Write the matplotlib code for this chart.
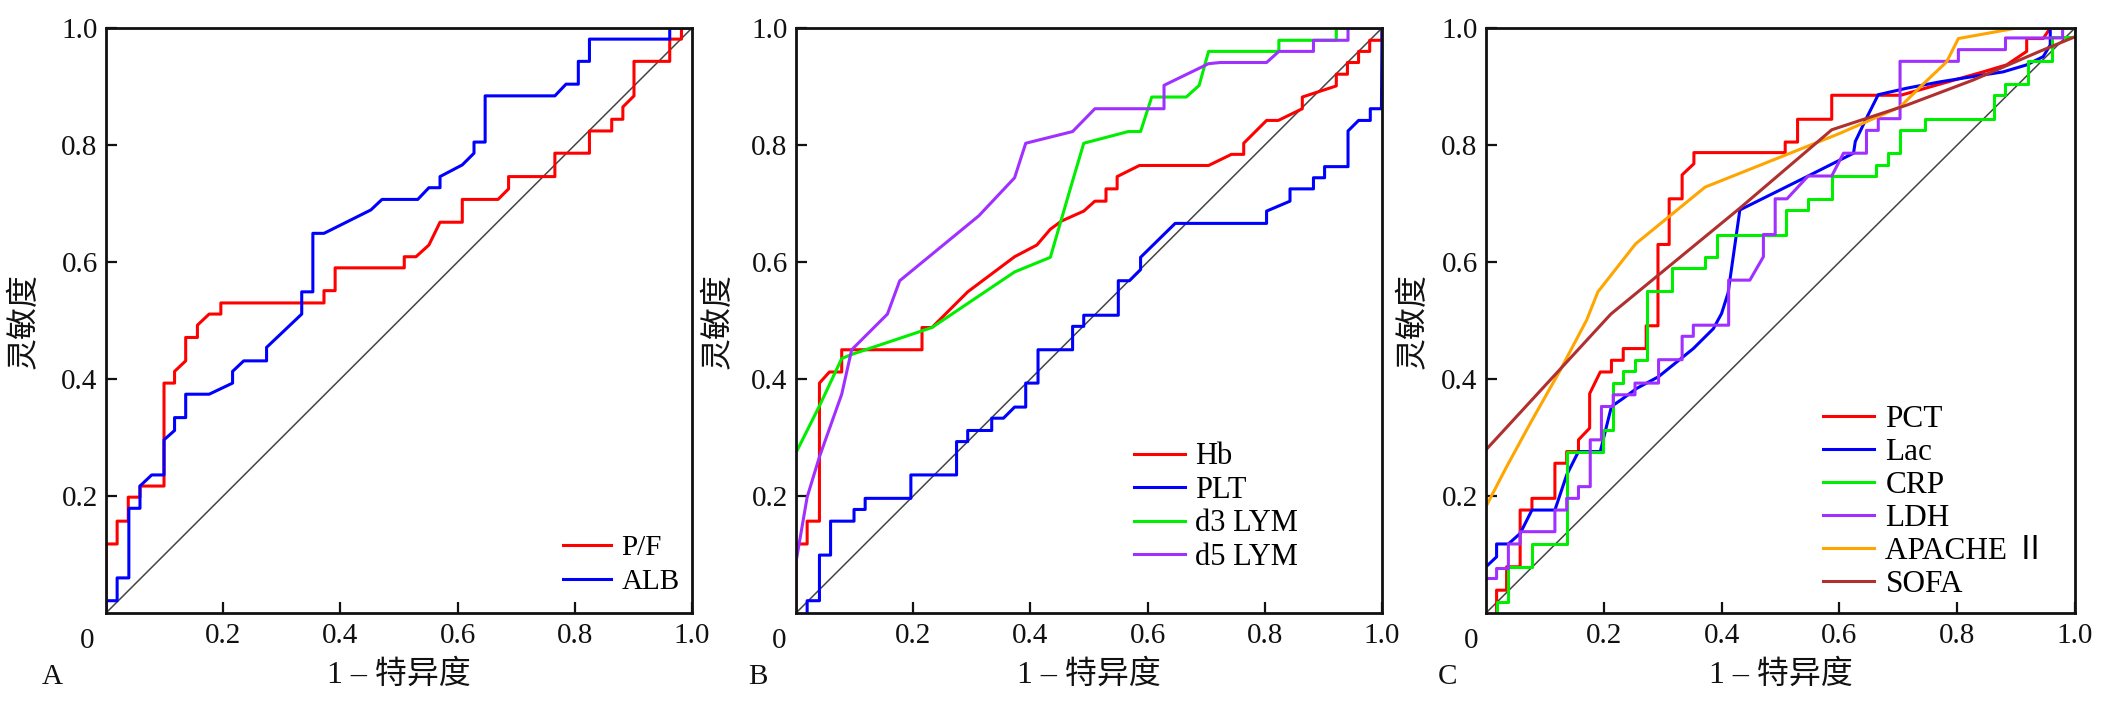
import matplotlib
matplotlib.use("Agg")
import matplotlib.pyplot as plt

plt.rcParams['font.family'] = ['Liberation Serif', 'Noto Sans CJK SC']
plt.rcParams['axes.unicode_minus'] = False

# ---- panel A : P/F, ALB ----
pf_x = [0, 0, 0.019, 0.019, 0.038, 0.038, 0.058, 0.058, 0.099, 0.099, 0.117, 0.117, 0.136, 0.136,
        0.156, 0.156, 0.176, 0.196, 0.196, 0.372, 0.372, 0.391, 0.391, 0.509, 0.509, 0.529, 0.551,
        0.570, 0.608, 0.608, 0.669, 0.687, 0.687, 0.766, 0.766, 0.825, 0.825, 0.863, 0.863, 0.882,
        0.882, 0.901, 0.901, 0.962, 0.962, 0.982, 0.982, 1.0]
pf_y = [0, 0.118, 0.118, 0.157, 0.157, 0.198, 0.198, 0.217, 0.217, 0.393, 0.393, 0.413, 0.431, 0.471,
        0.471, 0.492, 0.511, 0.511, 0.530, 0.530, 0.551, 0.551, 0.590, 0.590, 0.609, 0.609, 0.629,
        0.668, 0.668, 0.707, 0.707, 0.725, 0.746, 0.746, 0.786, 0.786, 0.824, 0.824, 0.844, 0.844,
        0.865, 0.884, 0.943, 0.943, 0.981, 0.981, 1.0, 1.0]

alb_x = [0, 0, 0.019, 0.019, 0.039, 0.039, 0.058, 0.058, 0.078, 0.099, 0.099, 0.117, 0.117, 0.136,
         0.136, 0.176, 0.216, 0.216, 0.235, 0.274, 0.274, 0.334, 0.334, 0.353, 0.353, 0.372, 0.452,
         0.471, 0.532, 0.551, 0.570, 0.570, 0.608, 0.628, 0.628, 0.647, 0.647, 0.766, 0.785, 0.806,
         0.806, 0.825, 0.825, 0.962, 0.962, 1.0]
alb_y = [0, 0.021, 0.021, 0.060, 0.060, 0.179, 0.179, 0.217, 0.236, 0.236, 0.296, 0.312, 0.334, 0.334,
         0.374, 0.374, 0.393, 0.413, 0.431, 0.431, 0.454, 0.511, 0.549, 0.549, 0.649, 0.649, 0.689,
         0.707, 0.707, 0.727, 0.727, 0.746, 0.766, 0.786, 0.805, 0.805, 0.884, 0.884, 0.904, 0.904,
         0.943, 0.943, 0.981, 0.981, 1.0, 1.0]

# ---- panel B : Hb, PLT, d3 LYM, d5 LYM ----
hb_x = [0, 0, 0.019, 0.019, 0.040, 0.040, 0.057, 0.078, 0.078, 0.215, 0.215, 0.232, 0.293, 0.373,
        0.411, 0.434, 0.453, 0.491, 0.510, 0.529, 0.529, 0.548, 0.548, 0.586, 0.704, 0.743, 0.764,
        0.764, 0.803, 0.823, 0.864, 0.864, 0.922, 0.922, 0.941, 0.941, 0.960, 0.960, 0.979, 0.979,
        1.0, 1.0]
hb_y = [0, 0.118, 0.118, 0.157, 0.157, 0.393, 0.412, 0.412, 0.450, 0.450, 0.488, 0.488, 0.549, 0.609,
        0.629, 0.656, 0.670, 0.687, 0.704, 0.704, 0.725, 0.725, 0.746, 0.765, 0.765, 0.784, 0.784,
        0.803, 0.842, 0.842, 0.862, 0.882, 0.901, 0.921, 0.921, 0.941, 0.941, 0.960, 0.960, 0.979,
        0.979, 1.0]

plt_x = [0.019, 0.019, 0.040, 0.040, 0.059, 0.059, 0.099, 0.099, 0.118, 0.118, 0.196, 0.196, 0.274,
         0.274, 0.293, 0.293, 0.334, 0.334, 0.354, 0.373, 0.392, 0.392, 0.413, 0.413, 0.472, 0.472,
         0.491, 0.491, 0.550, 0.550, 0.569, 0.588, 0.588, 0.647, 0.803, 0.803, 0.843, 0.843, 0.883,
         0.883, 0.902, 0.902, 0.942, 0.942, 0.960, 0.980, 0.980, 0.999, 1.0]
plt_y = [0, 0.021, 0.021, 0.099, 0.099, 0.157, 0.157, 0.177, 0.177, 0.196, 0.196, 0.236, 0.236,
         0.293, 0.293, 0.312, 0.312, 0.333, 0.333, 0.352, 0.352, 0.393, 0.393, 0.450, 0.450, 0.490,
         0.490, 0.509, 0.509, 0.568, 0.568, 0.587, 0.608, 0.666, 0.666, 0.687, 0.704, 0.725, 0.725,
         0.744, 0.744, 0.763, 0.763, 0.824, 0.842, 0.842, 0.862, 0.862, 1.0]

d3_x = [0, 0.040, 0.078, 0.095, 0.232, 0.373, 0.434, 0.468, 0.491, 0.567, 0.588, 0.607, 0.666, 0.688,
        0.704, 0.824, 0.824, 0.922, 0.922, 1.0]
d3_y = [0.274, 0.354, 0.435, 0.442, 0.488, 0.583, 0.608, 0.725, 0.803, 0.823, 0.823, 0.882, 0.882,
        0.902, 0.960, 0.960, 0.979, 0.979, 1.0, 1.0]

d5_x = [0, 0.019, 0.040, 0.078, 0.095, 0.156, 0.177, 0.312, 0.373, 0.392, 0.472, 0.510, 0.628, 0.628,
        0.704, 0.724, 0.803, 0.824, 0.883, 0.883, 0.942, 0.942, 1.0]
d5_y = [0.087, 0.198, 0.267, 0.374, 0.450, 0.511, 0.568, 0.679, 0.744, 0.803, 0.823, 0.862, 0.862,
        0.902, 0.939, 0.941, 0.941, 0.960, 0.960, 0.979, 0.979, 1.0, 1.0]

# ---- panel C : PCT, Lac, CRP, LDH, APACHE II, SOFA ----
pct_x = [0.018, 0.018, 0.035, 0.035, 0.058, 0.058, 0.078, 0.078, 0.117, 0.117, 0.137, 0.137, 0.157,
         0.157, 0.176, 0.176, 0.194, 0.213, 0.213, 0.233, 0.233, 0.272, 0.272, 0.292, 0.292, 0.311,
         0.311, 0.333, 0.333, 0.353, 0.353, 0.508, 0.508, 0.529, 0.529, 0.587, 0.587, 0.704, 0.844,
         0.884, 0.918, 0.918, 0.946, 0.958, 1.0]
pct_y = [0, 0.039, 0.039, 0.079, 0.079, 0.176, 0.176, 0.196, 0.196, 0.256, 0.256, 0.276, 0.276,
         0.296, 0.316, 0.375, 0.412, 0.412, 0.432, 0.432, 0.452, 0.452, 0.491, 0.491, 0.630, 0.630,
         0.708, 0.708, 0.749, 0.768, 0.787, 0.787, 0.805, 0.805, 0.844, 0.844, 0.885, 0.885, 0.925,
         0.937, 0.960, 0.982, 0.982, 1.0, 1.0]

lac_x = [0, 0.018, 0.018, 0.038, 0.058, 0.078, 0.117, 0.137, 0.157, 0.194, 0.213, 0.233, 0.256, 0.293,
         0.352, 0.386, 0.400, 0.411, 0.431, 0.545, 0.624, 0.627, 0.647, 0.666, 0.714, 0.771, 0.827,
         0.878, 0.918, 0.946, 0.958, 0.958, 1.0]
lac_y = [0.079, 0.096, 0.118, 0.118, 0.136, 0.176, 0.176, 0.236, 0.276, 0.276, 0.353, 0.367, 0.384,
         0.404, 0.452, 0.486, 0.512, 0.547, 0.689, 0.746, 0.786, 0.806, 0.848, 0.886, 0.897, 0.908,
         0.917, 0.925, 0.937, 0.951, 0.971, 1.0, 1.0]

crp_x = [0.018, 0.018, 0.038, 0.038, 0.078, 0.078, 0.137, 0.137, 0.199, 0.199, 0.216, 0.216, 0.233,
         0.233, 0.253, 0.253, 0.273, 0.273, 0.315, 0.315, 0.372, 0.372, 0.393, 0.393, 0.509, 0.509,
         0.547, 0.547, 0.587, 0.587, 0.663, 0.663, 0.683, 0.683, 0.703, 0.703, 0.746, 0.746, 0.862,
         0.862, 0.882, 0.882, 0.921, 0.921, 0.961, 0.961, 1.0, 1.0]
crp_y = [0, 0.019, 0.019, 0.079, 0.079, 0.118, 0.118, 0.276, 0.276, 0.313, 0.313, 0.393, 0.393,
         0.413, 0.413, 0.432, 0.432, 0.550, 0.550, 0.589, 0.589, 0.609, 0.609, 0.647, 0.647, 0.689,
         0.689, 0.708, 0.708, 0.747, 0.747, 0.766, 0.766, 0.786, 0.786, 0.825, 0.825, 0.845, 0.845,
         0.885, 0.885, 0.904, 0.904, 0.943, 0.943, 0.985, 0.985, 1.0]

ldh_x = [0, 0.018, 0.018, 0.038, 0.038, 0.058, 0.058, 0.117, 0.117, 0.137, 0.137, 0.157, 0.157, 0.177,
         0.177, 0.196, 0.196, 0.216, 0.216, 0.253, 0.253, 0.293, 0.293, 0.333, 0.333, 0.352, 0.352,
         0.412, 0.412, 0.448, 0.471, 0.471, 0.491, 0.491, 0.511, 0.547, 0.587, 0.607, 0.646, 0.646,
         0.666, 0.666, 0.703, 0.703, 0.802, 0.802, 0.882, 0.882, 0.979, 0.979, 1.0]
ldh_y = [0.059, 0.059, 0.076, 0.076, 0.118, 0.118, 0.139, 0.139, 0.176, 0.176, 0.196, 0.196, 0.216,
         0.216, 0.296, 0.296, 0.353, 0.353, 0.373, 0.373, 0.393, 0.393, 0.433, 0.433, 0.473, 0.473,
         0.492, 0.492, 0.569, 0.569, 0.609, 0.647, 0.647, 0.708, 0.708, 0.747, 0.747, 0.786, 0.786,
         0.825, 0.825, 0.845, 0.845, 0.943, 0.943, 0.963, 0.963, 0.983, 0.983, 1.0, 1.0]

apache_x = [0, 0.035, 0.075, 0.126, 0.171, 0.190, 0.254, 0.372, 0.509, 0.601, 0.703, 0.740, 0.782,
            0.802, 0.896, 0.930, 1.0]
apache_y = [0.182, 0.250, 0.324, 0.415, 0.501, 0.549, 0.631, 0.728, 0.783, 0.820, 0.865, 0.902, 0.942,
            0.982, 0.999, 1.0, 1.0]

sofa_x = [0, 0.212, 0.431, 0.587, 0.714, 0.827, 0.940, 1.0]
sofa_y = [0.279, 0.511, 0.692, 0.826, 0.868, 0.911, 0.960, 0.985]

xticks = [0.2, 0.4, 0.6, 0.8, 1.0]
xtick_labels = ['0.2', '0.4', '0.6', '0.8', '1.0']
yticks = [0.2, 0.4, 0.6, 0.8, 1.0]
ytick_labels = ['0.2', '0.4', '0.6', '0.8', '1.0']

FS = 21
LABEL_FS = 23
LW = 2.2

fig = plt.figure(figsize=(21.04, 7.03), dpi=100)

panels = [
    # left, width, letter, letter x, ylabel x, zero x, legend (x, y), legend font, label spacing
    (0.05038, 0.27852, 'A', -0.092, -0.139, -0.032, (0.78, 0.03), 21, 0.27),
    (0.37833, 0.27852, 'B', -0.065, -0.133, -0.028, (0.577, 0.07), 22, 0.15),
    (0.70627, 0.27994, 'C', -0.066, -0.123, -0.026, (0.572, 0.024), 22.5, 0.13),
]
series = [
    [(pf_x, pf_y, 'P/F', '#ff0000'), (alb_x, alb_y, 'ALB', '#0000ff')],
    [(hb_x, hb_y, 'Hb', '#ff0000'), (plt_x, plt_y, 'PLT', '#0000ff'),
     (d3_x, d3_y, 'd3 LYM', '#00ee00'), (d5_x, d5_y, 'd5 LYM', '#a030ff')],
    [(pct_x, pct_y, 'PCT', '#ff0000'), (lac_x, lac_y, 'Lac', '#0000ff'),
     (crp_x, crp_y, 'CRP', '#00ee00'), (ldh_x, ldh_y, 'LDH', '#a030ff'),
     (apache_x, apache_y, 'APACHE Ⅱ', '#ffa500'), (sofa_x, sofa_y, 'SOFA', '#b03030')],
]

for (left, width, letter, lx, ylx, zx, leg_pos, leg_fs, leg_ls), curves in zip(panels, series):
    ax = fig.add_axes([left, 0.12802, width, 0.83215])
    ax.plot([0, 1], [0, 1], color='#444444', lw=1.1, zorder=1)
    for x, y, name, col in curves:
        ax.plot(x, y, color=col, lw=LW, label=name, zorder=2)
    ax.set_xlim(0, 1)
    ax.set_ylim(0, 1)
    ax.set_xticks(xticks)
    ax.set_xticklabels(xtick_labels)
    ax.set_yticks(yticks)
    ax.set_yticklabels(ytick_labels)
    ax.tick_params(direction='in', length=8, width=1.6, labelsize=FS, colors='#111111')
    ax.tick_params(axis='x', pad=7)
    ax.tick_params(axis='y', pad=6)
    for sp in ax.spines.values():
        sp.set_linewidth(2.0)
        sp.set_color('#111111')
    ax.text(zx, -0.026, '0', transform=ax.transAxes, ha='center', va='top', fontsize=FS, color='#111111')
    ax.set_xlabel('1 – 特异度', fontsize=LABEL_FS, color='#111111')
    ax.xaxis.set_label_coords(0.5, -0.106)
    ax.xaxis.label.set_va('center')
    ax.set_ylabel('灵敏度', fontsize=LABEL_FS, color='#111111')
    ax.yaxis.set_label_coords(ylx, 0.5)
    ax.yaxis.label.set_va('center')
    ax.text(lx, -0.109, letter, transform=ax.transAxes, ha='center', va='center', fontsize=FS, color='#111111')
    ax.legend(loc='lower left', bbox_to_anchor=leg_pos, frameon=False, fontsize=leg_fs,
              handlelength=1.65, handletextpad=0.35, labelspacing=leg_ls, borderpad=0, borderaxespad=0)

fig.savefig('out.png', dpi=100)
